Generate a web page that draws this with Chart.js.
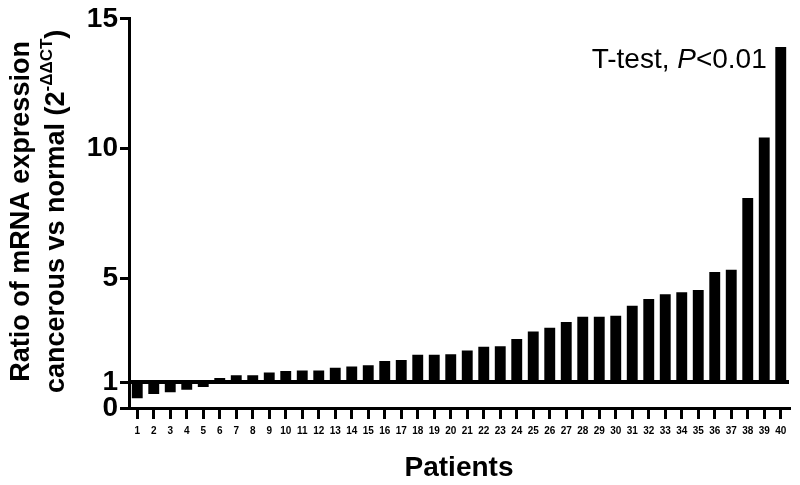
<!DOCTYPE html>
<html lang="en">
<head>
    <meta charset="UTF-8">
    <title>Ratio of mRNA expression by patient</title>
    <script src="https://cdn.jsdelivr.net/npm/chart.js"></script>
    <style>
        body { margin: 0; background: #fff; }
        canvas { display: block; }
    </style>
</head>
<body>
    <canvas id="ratioChart" width="800" height="485"></canvas>

    <script>
        // Data
        const patients = Array.from({ length: 40 }, (_, i) => String(i + 1));
        const ratios = [0.38, 0.54, 0.61, 0.70, 0.81, 1.16, 1.26, 1.26, 1.37, 1.43,
                        1.45, 1.45, 1.55, 1.60, 1.65, 1.81, 1.85, 2.05, 2.05, 2.07,
                        2.22, 2.36, 2.38, 2.66, 2.95, 3.09, 3.31, 3.52, 3.52, 3.56,
                        3.94, 4.20, 4.38, 4.46, 4.55, 5.24, 5.33, 8.09, 10.43, 13.91];
        const yTicks = [0, 1, 5, 10, 15];
        const baseline = 1;

        const FONT = '"Liberation Sans", Arial, sans-serif';

        // horizontal reference line at ratio = 1
        const baselinePlugin = {
            id: 'baseline',
            afterDatasetsDraw(chart) {
                const { ctx, chartArea, scales } = chart;
                const y = scales.y.getPixelForValue(baseline);
                ctx.save();
                ctx.strokeStyle = '#000';
                ctx.lineWidth = 4;
                ctx.beginPath();
                ctx.moveTo(chartArea.left, y);
                ctx.lineTo(chartArea.right, y);
                ctx.stroke();
                ctx.restore();
            }
        };

        // rotated two-line y title with a superscript, plus the t-test note
        const textPlugin = {
            id: 'texts',
            afterDraw(chart) {
                const { ctx, chartArea, scales } = chart;
                const midY = (chartArea.top + chartArea.bottom) / 2 - 2;
                ctx.save();
                ctx.fillStyle = '#000';

                ctx.save();
                ctx.translate(22, midY);
                ctx.rotate(-Math.PI / 2);
                ctx.font = 'bold 27px ' + FONT;
                ctx.textAlign = 'center';
                ctx.textBaseline = 'middle';
                ctx.fillText('Ratio of mRNA expression', 0, 0);
                ctx.restore();

                ctx.save();
                ctx.translate(57, midY);
                ctx.rotate(-Math.PI / 2);
                ctx.textBaseline = 'middle';
                ctx.textAlign = 'left';
                const main = 'cancerous vs normal (2';
                const sup = '-ΔΔCT';
                const close = ')';
                ctx.font = 'bold 27px ' + FONT;
                const wMain = ctx.measureText(main).width;
                const wClose = ctx.measureText(close).width;
                ctx.font = 'bold 17px ' + FONT;
                const wSup = ctx.measureText(sup).width;
                let x = -(wMain + wSup + wClose) / 2;
                ctx.font = 'bold 27px ' + FONT;
                ctx.fillText(main, x, 0);
                x += wMain;
                ctx.font = 'bold 17px ' + FONT;
                ctx.fillText(sup, x, -10);
                x += wSup;
                ctx.font = 'bold 27px ' + FONT;
                ctx.fillText(close, x, 0);
                ctx.restore();

                // annotation
                const ax = scales.x.getPixelForValue(patients.length - 1) - 14;
                const ay = scales.y.getPixelForValue(13.1);
                ctx.textBaseline = 'alphabetic';
                ctx.textAlign = 'right';
                const tail = '<0.01';
                ctx.font = '28px ' + FONT;
                const wTail = ctx.measureText(tail).width;
                ctx.fillText(tail, ax, ay);
                ctx.font = 'italic 28px ' + FONT;
                const wP = ctx.measureText('P').width;
                ctx.fillText('P', ax - wTail, ay);
                ctx.font = '28px ' + FONT;
                ctx.fillText('T-test, ', ax - wTail - wP, ay);
                ctx.restore();
            }
        };

        new Chart(document.getElementById('ratioChart'), {
            type: 'bar',
            data: {
                labels: patients,
                datasets: [{
                    data: ratios.map(v => [baseline, v]),
                    backgroundColor: '#000',
                    borderWidth: 0,
                    barPercentage: 0.66,
                    categoryPercentage: 1.0
                }]
            },
            options: {
                responsive: false,
                animation: false,
                devicePixelRatio: 1,
                layout: { padding: { left: 0, right: 11, top: 0, bottom: 0 } },
                plugins: {
                    legend: { display: false },
                    tooltip: { enabled: false }
                },
                scales: {
                    x: {
                        offset: true,
                        grid: {
                            offset: false,
                            drawOnChartArea: false,
                            drawTicks: true,
                            tickLength: 11,
                            lineWidth: 3,
                            color: '#000'
                        },
                        border: { display: true, color: '#000', width: 3 },
                        ticks: {
                            autoSkip: false,
                            maxRotation: 0,
                            padding: 6,
                            color: '#000',
                            font: { family: FONT, size: 10, weight: 'bold' }
                        },
                        title: {
                            display: true,
                            text: 'Patients',
                            color: '#000',
                            font: { family: FONT, size: 28, weight: 'bold' },
                            padding: { top: 0, bottom: 0 }
                        },
                        afterFit(scale) { scale.height = 77; }
                    },
                    y: {
                        min: 0,
                        max: 15,
                        afterBuildTicks(scale) {
                            scale.ticks = yTicks.map(v => ({ value: v }));
                        },
                        grid: {
                            drawOnChartArea: false,
                            drawTicks: true,
                            tickLength: 9,
                            lineWidth: 3,
                            color: '#000'
                        },
                        border: { display: true, color: '#000', width: 3 },
                        ticks: {
                            padding: 2,
                            color: '#000',
                            font: { family: FONT, size: 28, weight: 'bold' }
                        },
                        afterFit(scale) { scale.width = 129; }
                    }
                }
            },
            plugins: [baselinePlugin, textPlugin]
        });
    </script>
</body>
</html>
